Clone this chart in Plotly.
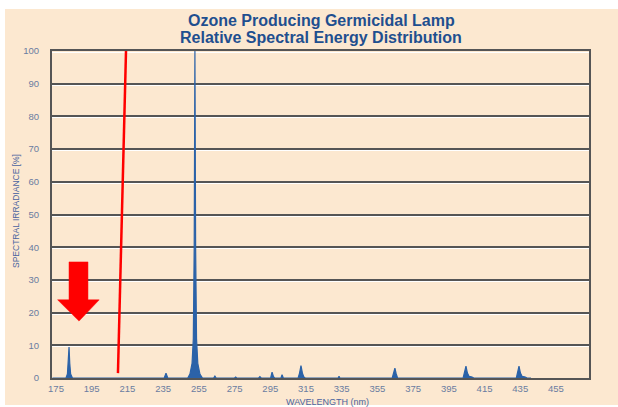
import plotly.graph_objects as go

# ---- data ----
wavelength_nm = [173.0, 180.6, 181.4, 181.9, 182.3, 182.7, 183.2, 184.2,
                 235.6, 236.6, 237.6,
                 248.8, 250.0, 251.2, 251.9, 252.4, 252.8, 253.2, 253.7, 254.4, 255.6, 257.0,
                 263.3, 264.0, 264.7,
                 275.0, 275.6, 276.2,
                 288.5, 289.2, 289.9,
                 295.2, 296.0, 296.8, 297.4,
                 301.0, 301.6, 302.3,
                 310.6, 311.4, 312.2, 313.0, 313.8, 314.6,
                 333.0, 333.5, 334.0,
                 363.3, 364.1, 364.8, 365.5, 366.3,
                 403.0, 403.8, 404.6, 405.4, 406.3, 408.0, 409.0,
                 432.8, 433.5, 434.3, 435.1, 436.0, 437.8, 438.8, 441.0]
irradiance_pct = [0, 0, 1.2, 4.5, 9.5, 4.5, 1.2, 0,
                  0, 1.5, 0,
                  0, 1.2, 4.5, 12, 40, 100, 40, 12, 4.5, 1.2, 0,
                  0, 0.6, 0,
                  0, 0.3, 0,
                  0, 0.4, 0,
                  0, 1.8, 0.4, 0,
                  0, 1.0, 0,
                  0, 1.5, 3.8, 1.5, 0.3, 0,
                  0, 0.5, 0,
                  0, 1.3, 3.0, 1.3, 0,
                  0, 1.5, 3.6, 1.5, 0.5, 0.3, 0,
                  0, 1.5, 3.6, 1.5, 0.5, 0.3, 0, 0]

x_tick_vals = list(range(175, 456, 20))
y_tick_vals = list(range(0, 101, 10))

title_line1 = "Ozone Producing Germicidal Lamp"
title_line2 = "Relative Spectral Energy Distribution"
x_title = "WAVELENGTH (nm)"
y_title = "SPECTRAL IRRADIANCE [%]"

# ---- red overlay annotations (data coordinates) ----
red_line_x = [214.2, 209.7]
red_line_y = [100.0, 1.5]
arrow_x = [182.3, 192.9, 192.9, 199.2, 187.9, 175.9, 182.3]
arrow_y = [35.5, 35.5, 23.9, 23.9, 17.4, 23.9, 23.9]

BLUE = "#2b62a8"
TITLE_BLUE = "#1f4f8f"
LABEL = "#6a7ca0"
GRID = "#555555"
FONT = "Liberation Sans, Arial, sans-serif"

fig = go.Figure()
fig.add_trace(go.Scatter(
    x=wavelength_nm, y=irradiance_pct, mode="lines",
    line=dict(color=BLUE, width=1.2), fill="tozeroy", fillcolor=BLUE,
    hoverinfo="x+y", showlegend=False))
# helper trace so the highlight axis gets drawn (invisible)
fig.add_trace(go.Scatter(x=[wavelength_nm[0]], y=[0], yaxis="y2", mode="markers",
                         marker=dict(opacity=0), hoverinfo="skip", showlegend=False))

path = "M " + " L ".join(f"{a},{b}" for a, b in zip(arrow_x, arrow_y)) + " Z"

L, R, T, B = 52, 29, 51, 29
W, H = 618, 407
pw, ph = W - L - R, H - T - B

def px(xp):
    return (xp - L) / pw

def py(yp):
    return (H - B - yp) / ph

fig.update_layout(
    width=W, height=H,
    margin=dict(l=L, r=R, t=T, b=B),
    paper_bgcolor="white",
    plot_bgcolor="#fdf0df",
    showlegend=False,
    xaxis=dict(range=[172.76, 473.5], tickvals=x_tick_vals, ticks="outside",
               ticklen=1, tickcolor="rgba(0,0,0,0)",
               tickfont=dict(family=FONT, size=9.5, color=LABEL),
               showgrid=False, zeroline=False, showline=True, mirror=True,
               linecolor=GRID, linewidth=2, layer="below traces"),
    yaxis=dict(range=[0, 100], tickvals=y_tick_vals, ticks="outside",
               ticklen=9, tickcolor="rgba(0,0,0,0)",
               tickfont=dict(family=FONT, size=9.5, color=LABEL),
               showgrid=True, gridcolor=GRID, gridwidth=1.5, zeroline=False,
               showline=True, mirror=True, linecolor=GRID, linewidth=2,
               layer="below traces"),
    yaxis2=dict(overlaying="y", range=[0.46, 100.46], dtick=10, tick0=0,
                showticklabels=False, showgrid=True, gridcolor="#ffffff",
                gridwidth=1, zeroline=False, showline=False),
    shapes=[
        dict(type="rect", xref="paper", yref="paper", x0=px(5), x1=px(618),
             y0=py(405), y1=py(9), fillcolor="#fce8d0", line=dict(width=0),
             layer="below"),
        dict(type="line", xref="x", yref="y", x0=red_line_x[0], y0=red_line_y[0],
             x1=red_line_x[1], y1=red_line_y[1], line=dict(color="#ff0000", width=2.5)),
        dict(type="path", xref="x", yref="y", path=path, fillcolor="#ff0000",
             line=dict(color="#ff0000", width=0.5)),
    ],
    annotations=[
        dict(text=f"<b>{title_line1}</b>", xref="paper", yref="paper",
             x=px(321), y=py(20.5), xanchor="center", yanchor="middle", showarrow=False,
             font=dict(family=FONT, size=16, color=TITLE_BLUE)),
        dict(text=f"<b>{title_line2}</b>", xref="paper", yref="paper",
             x=px(321), y=py(37.5), xanchor="center", yanchor="middle", showarrow=False,
             font=dict(family=FONT, size=16, color=TITLE_BLUE)),
        dict(text=x_title, xref="paper", yref="paper", x=px(327), y=py(401.5),
             xanchor="center", yanchor="middle", showarrow=False,
             font=dict(family=FONT, size=9, color="#4a64a0")),
        dict(text=y_title, xref="paper", yref="paper", x=px(16), y=py(211),
             xanchor="center", yanchor="middle", showarrow=False, textangle=-90,
             font=dict(family=FONT, size=8.5, color="#4a64a0")),
    ],
)

fig.write_html("out.html", config={"displayModeBar": False},
               post_script="document.body.style.margin='0';")
